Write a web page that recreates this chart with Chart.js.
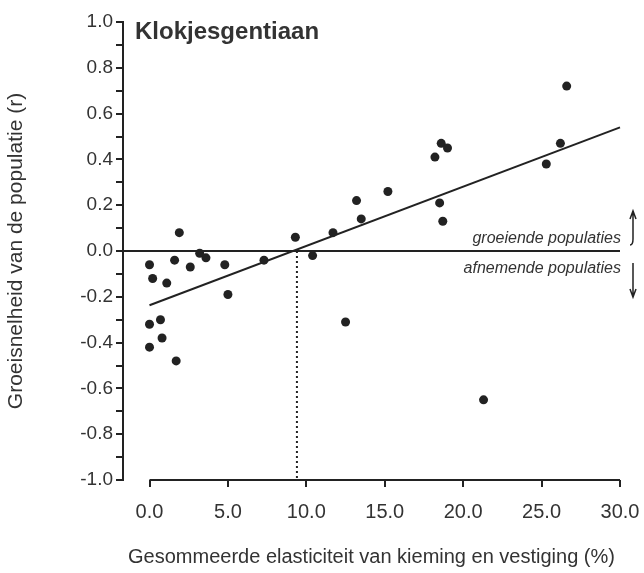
<!DOCTYPE html>
<html>
<head>
<meta charset="utf-8">
<script src="https://cdn.jsdelivr.net/npm/chart.js@4.4.1/dist/chart.umd.min.js"></script>
<style>
  body { margin: 0; background: #fff; }
</style>
</head>
<body>
<canvas id="chart" width="644" height="573"></canvas>
<script>
// Values
const elasticity = [0.0, 0.2, 1.1, 1.6, 1.9, 2.6, 3.2, 3.6, 4.8, 5.0, 7.3, 9.3, 10.4,
  0.0, 0.7, 0.8, 0.0, 1.7, 11.7, 13.2, 13.5, 15.2, 18.5, 18.7, 18.6, 19.0, 18.2,
  26.6, 26.2, 25.3, 12.5, 21.3];
const growthRate = [-0.06, -0.12, -0.14, -0.04, 0.08, -0.07, -0.01, -0.03, -0.06, -0.19, -0.04, 0.06, -0.02,
  -0.32, -0.30, -0.38, -0.42, -0.48, 0.08, 0.22, 0.14, 0.26, 0.21, 0.13, 0.47, 0.45, 0.41,
  0.72, 0.47, 0.38, -0.31, -0.65];

// regression line and threshold
const trendX = [0, 30];
const trendY = [-0.237, 0.54];
const thresholdX = 9.4;

const xTicks = [0, 5, 10, 15, 20, 25, 30];
const yMajorTicks = [-1.0, -0.8, -0.6, -0.4, -0.2, 0.0, 0.2, 0.4, 0.6, 0.8, 1.0];
const xAxisMin = -1.69;

const ink = "#222";
const textInk = "#333";

function pairs(xs, ys) {
  return xs.map((x, i) => ({ x: x, y: ys[i] }));
}

// y ticks every 0.1, labels only on the major ones
function yTickValues() {
  const out = [];
  for (let i = 0; i < yMajorTicks.length - 1; i++) {
    out.push(yMajorTicks[i]);
    out.push(Math.round((yMajorTicks[i] + yMajorTicks[i + 1]) * 50) / 100);
  }
  out.push(yMajorTicks[yMajorTicks.length - 1]);
  return out;
}

// title, labels and arrows
const annotations = {
  id: "annotations",
  afterDatasetsDraw(chart) {
    const { ctx, chartArea, scales } = chart;
    const x = scales.x, y = scales.y;
    const zeroY = y.getPixelForValue(0);
    const right = x.getPixelForValue(30);
    ctx.save();
    ctx.fillStyle = textInk;
    ctx.font = "bold 24px 'Liberation Sans', Arial, sans-serif";
    ctx.textAlign = "left";
    ctx.textBaseline = "alphabetic";
    ctx.fillText("Klokjesgentiaan", chartArea.left + 12, chartArea.top + 17);

    ctx.font = "italic 16px 'Liberation Sans', Arial, sans-serif";
    ctx.textAlign = "right";
    ctx.fillText("groeiende populaties", right + 1, zeroY - 8);
    ctx.fillText("afnemende populaties", right + 1, zeroY + 22);

    // arrows
    const ax = right + 13;
    ctx.strokeStyle = ink;
    ctx.lineWidth = 1.5;
    ctx.beginPath();
    ctx.moveTo(ax - 3, zeroY - 6);
    ctx.quadraticCurveTo(ax, zeroY - 6, ax, zeroY - 12);
    ctx.lineTo(ax, zeroY - 40);
    ctx.moveTo(ax - 3, zeroY - 32);
    ctx.lineTo(ax, zeroY - 40);
    ctx.lineTo(ax + 3, zeroY - 32);
    ctx.moveTo(ax, zeroY + 12);
    ctx.lineTo(ax, zeroY + 46);
    ctx.moveTo(ax - 3, zeroY + 38);
    ctx.lineTo(ax, zeroY + 46);
    ctx.lineTo(ax + 3, zeroY + 38);
    ctx.stroke();
    ctx.restore();
  }
};

const lineStyle = {
  showLine: true,
  pointRadius: 0,
  borderColor: ink,
  borderWidth: 2,
  clip: false
};

new Chart(document.getElementById("chart"), {
  type: "scatter",
  data: {
    datasets: [
      {
        label: "populaties",
        data: pairs(elasticity, growthRate),
        pointRadius: 4.5,
        pointBackgroundColor: ink,
        pointBorderWidth: 0
      },
      Object.assign({ data: pairs(trendX, trendY) }, lineStyle),
      Object.assign({ data: [{ x: xAxisMin, y: 0 }, { x: 30, y: 0 }] }, lineStyle),
      Object.assign({ data: [{ x: thresholdX, y: 0 }, { x: thresholdX, y: -1 }], borderDash: [2, 3] }, lineStyle),
      // x axis line only spans 0..30
      Object.assign({ data: [{ x: xTicks[0], y: -1 }, { x: xTicks[xTicks.length - 1], y: -1 }] }, lineStyle)
    ]
  },
  options: {
    responsive: false,
    animation: false,
    layout: { padding: { left: 0, right: 24, top: 22, bottom: 0 } },
    plugins: {
      legend: { display: false },
      tooltip: { enabled: false }
    },
    scales: {
      x: {
        type: "linear",
        min: xAxisMin,
        max: 30,
        afterBuildTicks(scale) {
          scale.ticks = xTicks.map((v) => ({ value: v }));
        },
        afterFit(scale) {
          scale.height = 93;
          scale.paddingLeft = 0;
          scale.paddingRight = 0;
        },
        border: { display: false },
        grid: { drawOnChartArea: false, tickLength: 7, color: ink, lineWidth: 2 },
        ticks: {
          color: textInk,
          padding: 13,
          font: { family: "'Liberation Sans', Arial, sans-serif", size: 20 },
          callback: (v) => Number(v).toFixed(1)
        },
        title: {
          display: true,
          text: "Gesommeerde elasticiteit van kieming en vestiging (%)",
          color: textInk,
          padding: { top: 0, bottom: 4 },
          font: { family: "'Liberation Sans', Arial, sans-serif", size: 20 }
        }
      },
      y: {
        min: -1,
        max: 1,
        afterBuildTicks(scale) {
          scale.ticks = yTickValues().map((v) => ({ value: v }));
        },
        afterFit(scale) {
          scale.width = 123;
        },
        border: { display: true, color: ink, width: 2 },
        grid: { drawOnChartArea: false, tickLength: 7, color: ink, lineWidth: 2 },
        ticks: {
          autoSkip: false,
          color: textInk,
          padding: 3,
          font: { family: "'Liberation Sans', Arial, sans-serif", size: 19 },
          callback: (v) => yMajorTicks.some((m) => Math.abs(m - v) < 1e-6) ? Number(v).toFixed(1) : ""
        },
        title: {
          display: true,
          text: "Groeisnelheid van de populatie (r)",
          color: textInk,
          padding: { top: 4, bottom: 0 },
          font: { family: "'Liberation Sans', Arial, sans-serif", size: 21 }
        }
      }
    }
  },
  plugins: [annotations]
});
</script>
</body>
</html>
